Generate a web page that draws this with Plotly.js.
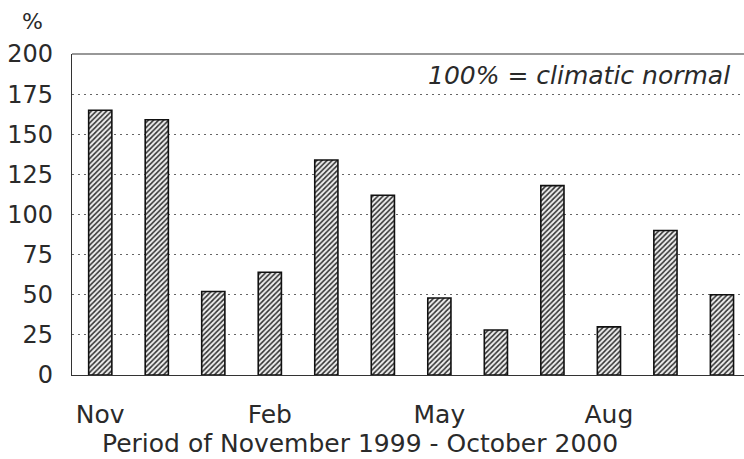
<!DOCTYPE html>
<html>
<head>
<meta charset="utf-8">
<script src="https://cdn.plot.ly/plotly-3.0.1.min.js"></script>
<style>
  html, body { margin: 0; padding: 0; background: #fff; }
  #chart { width: 744px; height: 459px; }
</style>
</head>
<body>
<div id="chart"></div>
<script>
const months = ["Nov", "Dec", "Jan", "Feb", "Mar", "Apr", "May", "Jun", "Jul", "Aug", "Sep", "Oct"];
const precipPct = [165, 159, 52, 64, 134, 112, 48, 28, 118, 30, 90, 50];
const xTickLabels = ["Nov", "Feb", "May", "Aug"];
const yTicks = [0, 25, 50, 75, 100, 125, 150, 175, 200];

// the scan is a bit wide, so DejaVu fits the widths better than Arial
const FONT = "DejaVu Sans, Liberation Sans, sans-serif";
const INK = "#2a2a2a";

const data = [
  {
    type: "bar",
    x: months,
    y: precipPct,
    width: 0.41,
    marker: {
      color: "#ffffff",
      line: { color: "#111", width: 1.6 },
      pattern: { shape: "/", fgcolor: "#333", bgcolor: "#eeeeee", size: 3.6, solidity: 0.45 },
    },
    hoverinfo: "skip",
  },
];

const layout = {
  width: 744,
  height: 459,
  margin: { l: 72, r: 0, t: 54, b: 84 },
  paper_bgcolor: "#fff",
  plot_bgcolor: "#fff",
  showlegend: false,
  font: { family: FONT, color: INK, size: 24 },
  xaxis: {
    type: "category",
    range: [-0.5, 11.39],
    tickvals: xTickLabels,
    ticktext: xTickLabels,
    ticks: "",
    showgrid: false,
    showline: true,
    linecolor: "#333",
    linewidth: 1.2,
    ticklabelstandoff: 17,
    tickfont: { size: 25, family: FONT, color: INK },
  },
  yaxis: {
    range: [0, 200],
    tickvals: yTicks,
    ticks: "",
    showline: true,
    linecolor: "#333",
    linewidth: 1.2,
    showgrid: true,
    gridcolor: "#666",
    griddash: "1.5px,4.5px",
    gridwidth: 1.2,
    zeroline: false,
    ticklabelstandoff: 13,
    tickfont: { size: 24, family: FONT, color: INK },
  },
  shapes: [
    {
      type: "line",
      xref: "paper", yref: "paper",
      x0: 0, x1: 1, y0: 1, y1: 1,
      line: { color: "#333", width: 1.2 },
    },
  ],
  annotations: [
    {
      text: "%",
      xref: "paper", yref: "paper",
      x: -0.0595, y: 1.1,
      xanchor: "center", yanchor: "middle",
      showarrow: false,
      font: { size: 22, family: FONT, color: INK },
    },
    {
      text: "<i>100% = climatic normal</i>",
      xref: "paper", yref: "paper",
      x: 0.982, y: 0.933,
      xanchor: "right", yanchor: "middle",
      showarrow: false,
      font: { size: 25, family: FONT, color: INK },
    },
    {
      text: "Period of November 1999 - October 2000",
      xref: "paper", yref: "paper",
      x: 0.429, y: -0.213,
      xanchor: "center", yanchor: "middle",
      showarrow: false,
      font: { size: 25, family: FONT, color: INK },
    },
  ],
};

Plotly.newPlot("chart", data, layout, { staticPlot: true, displayModeBar: false });
</script>
</body>
</html>
